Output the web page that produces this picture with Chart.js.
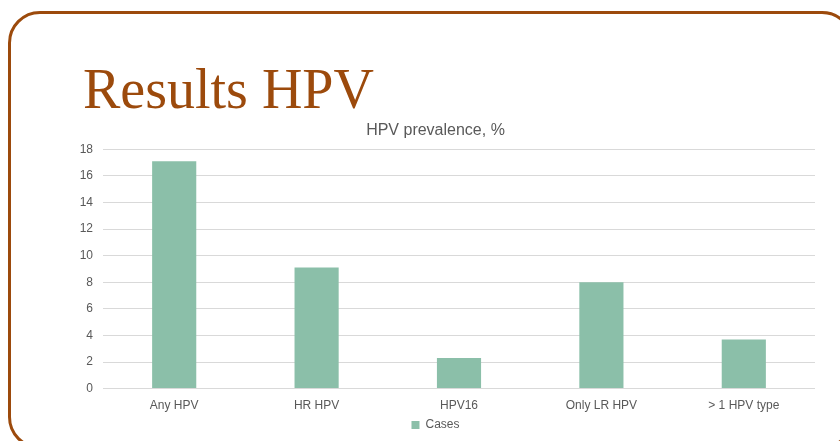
<!DOCTYPE html>
<html>
<head>
<meta charset="utf-8">
<script src="https://cdn.jsdelivr.net/npm/chart.js@4"></script>
<style>
    html, body { margin: 0; padding: 0; background: #ffffff; }
    body { width: 840px; height: 441px; position: relative; overflow: hidden; }
    .frame {
        position: absolute; left: 8px; top: 11px;
        width: 840px; height: 432px;
        border: 3px solid #9c4a0c; border-radius: 32px;
    }
    .heading {
        position: absolute; left: 83px; top: 61px;
        font-family: 'Liberation Serif', 'Times New Roman', serif;
        font-size: 56px; color: #9c4a0c; line-height: 1; white-space: nowrap;
    }
    .chart-box { position: absolute; left: 56px; top: 114px; width: 784px; height: 327px; }
</style>
</head>
<body>
<div class="frame"></div>
<div class="heading">Results HPV</div>
<div class="chart-box"><canvas id="hpvChart"></canvas></div>
<script>
// Values
const categories = ['Any HPV', 'HR HPV', 'HPV16', 'Only LR HPV', '> 1 HPV type'];
const casesValues = [17.1, 9.1, 2.3, 8.0, 3.7];
const yTicks = [0, 2, 4, 6, 8, 10, 12, 14, 16, 18];

Chart.defaults.font.family = "'Liberation Sans', Arial, sans-serif";
Chart.defaults.color = '#595959';

const ctx = document.getElementById('hpvChart').getContext('2d');
new Chart(ctx, {
    type: 'bar',
    data: {
        labels: categories,
        datasets: [{
            label: 'Cases',
            data: casesValues,
            backgroundColor: '#8bbfa9',
            borderWidth: 0,
            barPercentage: 0.31,
            categoryPercentage: 1
        }]
    },
    options: {
        responsive: true,
        maintainAspectRatio: false,
        animation: false,
        layout: {
            padding: { top: 0, right: 25, bottom: 0, left: 0 }
        },
        plugins: {
            title: {
                display: true,
                text: 'HPV prevalence, %',
                color: '#595959',
                font: { size: 16, weight: 'normal' },
                padding: { top: 7, bottom: 9 }
            },
            legend: {
                position: 'bottom',
                labels: {
                    boxWidth: 8,
                    boxHeight: 8,
                    color: '#595959',
                    font: { size: 12 },
                    padding: 4
                }
            },
            tooltip: { enabled: false }
        },
        scales: {
            y: {
                min: 0,
                max: 18,
                afterBuildTicks: scale => {
                    scale.ticks = yTicks.map(v => ({ value: v }));
                },
                afterFit: scale => { scale.width = 47; },
                border: { display: false },
                grid: { color: '#d9d9d9', drawTicks: false },
                ticks: { font: { size: 12 }, color: '#595959', padding: 10 }
            },
            x: {
                border: { display: false },
                grid: { display: false },
                ticks: { font: { size: 12 }, color: '#595959', padding: 2 }
            }
        }
    }
});
</script>
</body>
</html>
